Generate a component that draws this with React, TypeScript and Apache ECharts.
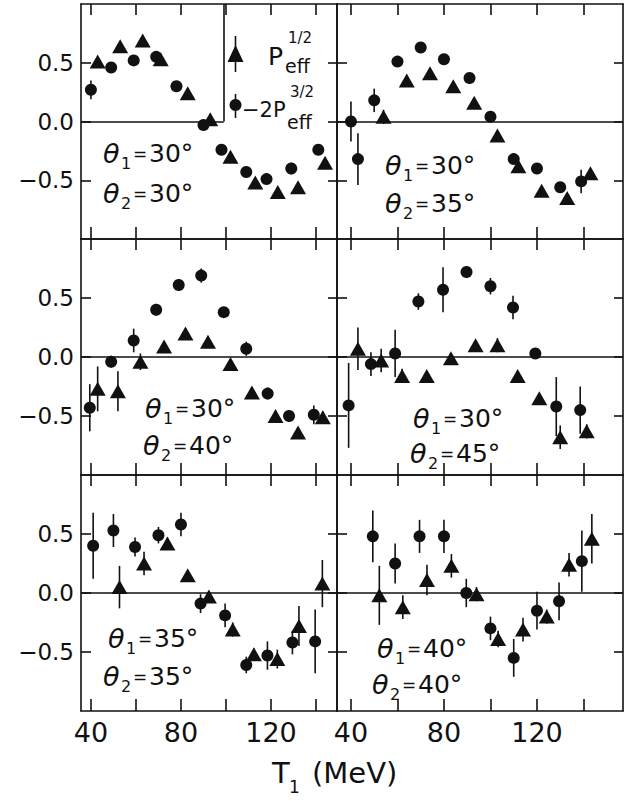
import React, { useEffect, useRef } from "react";
import * as echarts from "echarts";

// Panel angles (theta1, theta2) in order TL, TR, ML, MR, BL, BR
const THETA1 = [30, 30, 30, 30, 35, 40];
const THETA2 = [30, 35, 40, 45, 35, 40];

// [T1 (MeV), value, error]
const TL_CIRCLES = [[40, 0.27, 0.08], [49, 0.46, 0.03], [59, 0.52, 0.03], [69, 0.55, 0.03], [78, 0.3, 0.03], [90, -0.03, 0.03], [98, -0.24, 0.03], [109, -0.43, 0.03], [118, -0.49, 0.03], [129, -0.4, 0.05], [141, -0.24, 0.03]];
const TL_TRIANGLES = [[43, 0.51, 0.03], [53, 0.64, 0.03], [63, 0.69, 0.03], [71, 0.53, 0.03], [83, 0.24, 0.03], [93, 0.02, 0.03], [102, -0.3, 0.03], [113, -0.52, 0.03], [123, -0.6, 0.03], [132, -0.56, 0.03], [144, -0.35, 0.03]];

const TR_CIRCLES = [[40, 0.0, 0.17], [43, -0.32, 0.22], [50, 0.18, 0.1], [60, 0.51, 0.04], [70, 0.63, 0.04], [80, 0.53, 0.04], [91, 0.37, 0.04], [100, 0.04, 0.04], [110, -0.32, 0.04], [120, -0.4, 0.04], [130, -0.56, 0.04], [139, -0.51, 0.1]];
const TR_TRIANGLES = [[54, 0.04, 0.06], [64, 0.35, 0.03], [74, 0.41, 0.03], [84, 0.3, 0.03], [93, 0.16, 0.03], [103, -0.12, 0.03], [112, -0.38, 0.03], [122, -0.59, 0.03], [133, -0.65, 0.03], [143, -0.44, 0.03]];

const ML_CIRCLES = [[39.5, -0.43, 0.2], [49, -0.04, 0.05], [59, 0.14, 0.1], [69, 0.4, 0.05], [79, 0.61, 0.05], [89, 0.69, 0.06], [99, 0.38, 0.04], [109, 0.07, 0.06], [118.5, -0.31, 0.05], [128, -0.5, 0.05], [139, -0.49, 0.08]];
const ML_TRIANGLES = [[43, -0.27, 0.19], [52, -0.29, 0.17], [62, -0.04, 0.07], [72.5, 0.09, 0.04], [82, 0.2, 0.04], [92, 0.13, 0.04], [102, -0.06, 0.04], [111.5, -0.3, 0.04], [122, -0.5, 0.04], [132, -0.64, 0.04], [143, -0.51, 0.05]];

const MR_CIRCLES = [[39, -0.41, 0.36], [48.6, -0.06, 0.1], [59, 0.03, 0.2], [69, 0.47, 0.07], [79.6, 0.57, 0.19], [89.7, 0.72, 0.05], [100, 0.6, 0.07], [109.7, 0.42, 0.1], [119.3, 0.03, 0.04], [128.3, -0.42, 0.25], [138.6, -0.45, 0.2]];
const MR_TRIANGLES = [[43, 0.07, 0.18], [53, -0.03, 0.1], [62, -0.16, 0.06], [72.6, -0.16, 0.03], [83, -0.01, 0.03], [93.6, 0.1, 0.03], [103, 0.1, 0.06], [111.7, -0.16, 0.03], [121, -0.35, 0.03], [130, -0.68, 0.1], [141.4, -0.63, 0.06]];

const BL_CIRCLES = [[41, 0.4, 0.28], [50, 0.53, 0.14], [59.6, 0.39, 0.08], [70, 0.49, 0.07], [80, 0.58, 0.1], [88.7, -0.09, 0.08], [99.6, -0.19, 0.1], [109, -0.61, 0.07], [118.4, -0.53, 0.12], [129.5, -0.42, 0.1], [139.6, -0.41, 0.27]];
const BL_TRIANGLES = [[52.7, 0.05, 0.18], [63.6, 0.25, 0.1], [74, 0.42, 0.05], [83, 0.15, 0.04], [92.4, -0.03, 0.04], [103, -0.31, 0.06], [112.4, -0.52, 0.05], [122.8, -0.56, 0.08], [132.4, -0.28, 0.17], [142.8, 0.08, 0.2]];

const BR_CIRCLES = [[49.4, 0.48, 0.22], [59, 0.25, 0.17], [69.5, 0.48, 0.14], [80, 0.48, 0.14], [89.6, 0.0, 0.12], [100, -0.3, 0.1], [110, -0.55, 0.16], [120, -0.15, 0.16], [129.5, -0.07, 0.16], [139.3, 0.27, 0.26]];
const BR_TRIANGLES = [[52.2, -0.02, 0.25], [62.3, -0.12, 0.1], [72.7, 0.11, 0.13], [83.2, 0.23, 0.1], [94, -0.01, 0.06], [103.3, -0.39, 0.07], [114, -0.31, 0.1], [124.2, -0.2, 0.06], [133.8, 0.24, 0.1], [143.6, 0.46, 0.21]];

const CIRCLES = [TL_CIRCLES, TR_CIRCLES, ML_CIRCLES, MR_CIRCLES, BL_CIRCLES, BR_CIRCLES];
const TRIANGLES = [TL_TRIANGLES, TR_TRIANGLES, ML_TRIANGLES, MR_TRIANGLES, BL_TRIANGLES, BR_TRIANGLES];

const X_TICKS = [40, 60, 80, 100, 120, 140];
const X_LABELS = [40, 80, 120];
const Y_TICKS = [-0.5, 0, 0.5];
const X_NAME = "T";
const X_NAME_SUB = "1";
const X_UNIT = "(MeV)";
const LEGEND_EDGE_X = 99; // MeV where the legend box edge sits in the first panel

// layout
const COL_LEFT = [81, 337];
const COL_WIDTH = [256, 286];
const COL_XMIN = [35.6, 34];
const COL_XMAX = [149.3, 157];
const ROW_TOP = [4, 239, 475];
const ROW_HEIGHT = [235, 236, 236];
const ANNOT_POS = [
  [103, 140, 103, 180],
  [385, 152, 385, 190],
  [145, 395, 143, 432],
  [413, 405, 410, 440],
  [108, 625, 103, 663],
  [377, 635, 372, 671],
];

const FONT = "DejaVu Sans";
const INK = "#111";

function fmtY(v: number) {
  if (v === 0) return "0.0";
  if (v > 0) return v.toFixed(1);
  return "\u2212" + Math.abs(v).toFixed(1);
}

function thetaText(x: number, y: number, idx: string, val: number) {
  return [
    { type: "text", x: x, y: y, style: { text: "\u03b8", font: `italic 27px ${FONT}`, fill: INK } },
    { type: "text", x: x + 18, y: y + 15, style: { text: idx, font: `16px ${FONT}`, fill: INK } },
    { type: "text", x: x + 30, y: y + 5, style: { text: "=", font: `17px ${FONT}`, fill: INK } },
    { type: "text", x: x + 46, y: y + 1, style: { text: `${val}\u00b0`, font: `25px ${FONT}`, fill: INK } },
  ];
}

export default function App() {
  const ref = useRef<HTMLDivElement>(null);
  useEffect(() => {
    if (!ref.current) return;
    const chart = echarts.init(ref.current, undefined, { renderer: "svg" });
    const grids: any[] = [];
    const xAxes: any[] = [];
    const yAxes: any[] = [];
    const series: any[] = [];
    const graphics: any[] = [];
    const lineStyle = { color: INK, width: 1.6 };

    for (let i = 0; i < 6; i++) {
      const col = i % 2;
      const row = Math.floor(i / 2);
      grids.push({
        left: COL_LEFT[col],
        top: ROW_TOP[row],
        width: COL_WIDTH[col],
        height: ROW_HEIGHT[row],
        containLabel: false,
        outerBoundsMode: "none",
      });
      const isBottom = row === 2;
      xAxes.push({
        type: "value",
        gridIndex: i,
        position: "bottom",
        min: COL_XMIN[col],
        max: COL_XMAX[col],
        axisLine: { show: true, onZero: false, lineStyle },
        axisTick: { show: true, inside: true, length: 12, customValues: X_TICKS, lineStyle },
        axisLabel: {
          show: isBottom,
          customValues: X_LABELS,
          fontSize: 27,
          fontFamily: FONT,
          color: INK,
          margin: 8,
        },
        splitLine: { show: false },
      });
      xAxes.push({
        type: "value",
        gridIndex: i,
        position: "top",
        min: COL_XMIN[col],
        max: COL_XMAX[col],
        axisLine: { show: true, onZero: false, lineStyle },
        axisTick: { show: true, inside: true, length: 11, customValues: X_TICKS, lineStyle },
        axisLabel: { show: false },
        splitLine: { show: false },
      });
      yAxes.push({
        type: "value",
        gridIndex: i,
        position: "left",
        min: -1,
        max: 1,
        axisLine: { show: true, onZero: false, lineStyle },
        axisTick: { show: true, inside: true, length: 10, customValues: Y_TICKS, lineStyle },
        axisLabel: {
          show: col === 0,
          customValues: Y_TICKS,
          formatter: fmtY,
          fontSize: 23,
          fontFamily: FONT,
          color: INK,
          margin: 7,
        },
        splitLine: { show: false },
      });
      yAxes.push({
        type: "value",
        gridIndex: i,
        position: "right",
        min: -1,
        max: 1,
        axisLine: { show: true, onZero: false, lineStyle },
        axisTick: { show: true, inside: true, length: 9, customValues: Y_TICKS, lineStyle },
        axisLabel: { show: false },
        splitLine: { show: false },
      });

      const zeroData =
        i === 0
          ? [
              [{ coord: [COL_XMIN[0], 0] }, { coord: [LEGEND_EDGE_X, 0] }],
              [{ coord: [LEGEND_EDGE_X, 0] }, { coord: [LEGEND_EDGE_X, 1] }],
            ]
          : [{ yAxis: 0 }];

      const errSeries = (data: number[][]) => ({
        type: "custom",
        xAxisIndex: 2 * i,
        yAxisIndex: 2 * i,
        silent: true,
        z: 2,
        data: data,
        renderItem: (params: any, api: any) => {
          const x = api.value(0);
          const y = api.value(1);
          const e = api.value(2);
          const p1 = api.coord([x, y + e]);
          const p2 = api.coord([x, y - e]);
          return {
            type: "line",
            shape: { x1: p1[0], y1: p1[1], x2: p2[0], y2: p2[1] },
            style: { stroke: INK, lineWidth: 1.6 },
          };
        },
      });

      series.push(errSeries(CIRCLES[i]));
      series.push(errSeries(TRIANGLES[i]));
      series.push({
        type: "scatter",
        name: "-2P_eff^3/2",
        xAxisIndex: 2 * i,
        yAxisIndex: 2 * i,
        symbol: "circle",
        symbolSize: 12,
        z: 3,
        itemStyle: { color: INK, opacity: 1 },
        data: CIRCLES[i].map((d) => [d[0], d[1]]),
        markLine: {
          silent: true,
          symbol: ["none", "none"],
          label: { show: false },
          lineStyle: { color: INK, width: 1.6, type: "solid" },
          emphasis: { disabled: true },
          data: zeroData,
        },
      });
      series.push({
        type: "scatter",
        name: "P_eff^1/2",
        xAxisIndex: 2 * i,
        yAxisIndex: 2 * i,
        symbol: "triangle",
        symbolSize: [16, 14],
        z: 3,
        itemStyle: { color: INK, opacity: 1 },
        data: TRIANGLES[i].map((d) => [d[0], d[1]]),
      });

      const a = ANNOT_POS[i];
      graphics.push(...thetaText(a[0], a[1], "1", THETA1[i]));
      graphics.push(...thetaText(a[2], a[3], "2", THETA2[i]));
    }

    // legend in first panel
    graphics.push(
      { type: "line", shape: { x1: 235.5, y1: 36, x2: 235.5, y2: 72 }, style: { stroke: INK, lineWidth: 1.6 } },
      { type: "polygon", shape: { points: [[235.5, 45], [243.5, 62], [227.5, 62]] }, style: { fill: INK } },
      { type: "line", shape: { x1: 235.5, y1: 94, x2: 235.5, y2: 118 }, style: { stroke: INK, lineWidth: 1.6 } },
      { type: "circle", shape: { cx: 235.5, cy: 105, r: 6 }, style: { fill: INK } },
      { type: "text", x: 268, y: 44, style: { text: "P", font: `25px ${FONT}`, fill: INK } },
      { type: "text", x: 285, y: 56, style: { text: "eff", font: `19px ${FONT}`, fill: INK } },
      { type: "text", x: 288, y: 30, style: { text: "1/2", font: `15px ${FONT}`, fill: INK } },
      { type: "text", x: 242, y: 99, style: { text: "\u22122P", font: `21px ${FONT}`, fill: INK } },
      { type: "text", x: 287, y: 112, style: { text: "eff", font: `19px ${FONT}`, fill: INK } },
      { type: "text", x: 290, y: 84, style: { text: "3/2", font: `15px ${FONT}`, fill: INK } },
      // x axis title
      { type: "text", x: 272, y: 758, style: { text: X_NAME, font: `29px ${FONT}`, fill: INK } },
      { type: "text", x: 289, y: 778, style: { text: X_NAME_SUB, font: `17px ${FONT}`, fill: INK } },
      { type: "text", x: 312, y: 758, style: { text: X_UNIT, font: `29px ${FONT}`, fill: INK } }
    );

    chart.setOption({
      animation: false,
      backgroundColor: "#fff",
      grid: grids,
      xAxis: xAxes,
      yAxis: yAxes,
      series: series,
      graphic: graphics,
    });
    return () => chart.dispose();
  }, []);
  return (
    <div
      ref={ref}
      style={{ position: "fixed", left: 0, top: 0, width: 626, height: 801, background: "#fff" }}
    />
  );
}
